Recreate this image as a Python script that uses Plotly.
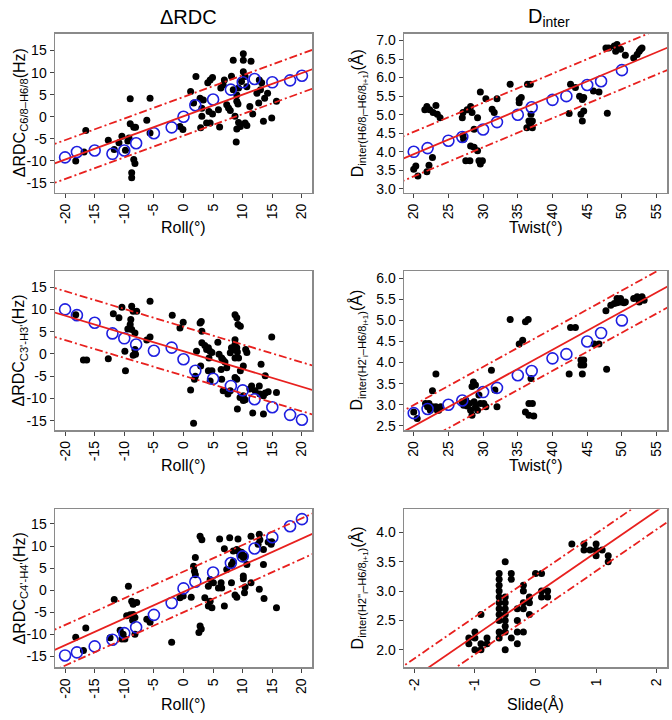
import plotly.graph_objects as go

# ---------------- data ----------------
# Panel 1: dRDC C6/8-H6/8 vs Roll
p1_x = [-16.5, -18.2, -16.8, -12.7, -11.7, -10.9, -10.4, -9.8, -9.4, -9.0, -9.0, -8.75, -8.75, -8.4, -8.2,
        -8.4, -8.1, -9.2, -6.2, -5.65, -5.65, -0.6, -0.1, 1.2, 1.7, 2.1, 2.8, 2.9, 3.1, 3.35, 3.9, 4.3, 4.5,
        4.1, 4.5, 4.9, 4.9, 5.9, 6.1, 6.3, 6.7, 6.9, 7.3, 7.6, 7.9, 8.1, 8.4, 8.7, 9.0, 9.2, 8.9, 9.0, 9.3,
        9.6, 9.0, 9.3, 10.1, 10.1, 10.1, 10.4, 10.7, 10.4, 10.7, 11.4, 11.2, 11.7, 12.4, 12.7, 13.0, 13.2,
        13.5, 13.7, 14.2, 14.9, 15.7, 12.8, 9.8, 8.4, 3.1]
p1_y = [-3.1, -10.05, -8.0, -5.3, -7.4, -5.9, -4.4, -7.6, -5.5, 4.1, -1.6, -12.7, -13.8, -9.7, -10.6,
        -2.4, -2.4, -4.8, -0.8, 4.2, -3.7, -2.2, -2.9, 5.7, 3.1, 9.1, 4.2, -2.5, 0.1, 3.8, -1.4, 1.2, -1.4,
        7.7, 8.3, 8.9, 0.6, 1.6, -2.3, 6.5, 7.2, 8.3, 2.7, 2.0, 1.4, 9.2, 12.8, 0.1, 3.5, 2.9, -5.7, -2.8, -1.3,
        -2.2, 4.95, 6.5, 14.3, 12.8, 10.2, 9.1, 6.8, -1.4, -2.0, 12.6, 2.3, 0.6, 5.3, 3.1, 6.1, 7.7,
        -1.0, 4.2, 5.3, -0.3, 3.5, 8.3, 7.96, 6.1, 1.95]
roll_bins = [-20, -18, -15, -12, -10, -8, -5, -2, 0, 2, 5, 8, 10, 12, 15, 18, 20]
p1_mean = [-9.2, -8.0, -7.65, -8.4, -7.65, -6.0, -3.75, -2.4, 0.0, 2.6, 3.9, 6.15, 7.8, 8.55, 7.8, 8.25, 9.3]
p1_fit = [0.49, 0.1, 4.4]   # slope, intercept, band

# Panel 2: Dinter H6/8 - H6/8 vs Twist
p2_x = [20.3, 20.0, 20.6, 21.9, 22.2, 22.7, 21.9, 21.6, 22.3, 22.8, 23.2, 23.4, 23.8, 27.1, 27.0, 27.7, 28.2,
        28.4, 29.6, 30.4, 32.0, 31.3, 31.6, 27.1, 27.2, 28.7, 29.2, 28.2, 28.7, 29.2, 27.5, 28.1, 29.4, 29.9,
        29.6, 33.9, 35.2, 35.5, 35.2, 36.4, 36.8, 36.9, 36.6, 37.1, 36.8, 36.3, 37.1, 42.6, 43.3, 43.9, 44.3,
        44.5, 42.4, 44.5, 44.1, 44.3, 45.9, 46.7, 47.9, 47.7, 48.1, 48.9, 49.3, 49.6, 49.1, 49.8, 50.5, 51.7,
        52.2, 52.7, 52.9, 52.5]
p2_y = [3.62, 3.53, 3.35, 3.46, 3.64, 3.85, 5.22, 5.13, 5.13, 5.06, 5.25, 5.01, 4.92, 5.06, 4.92, 5.13, 5.22,
        5.06, 5.61, 5.43, 5.43, 5.15, 5.06, 4.43, 4.34, 4.61, 4.92, 4.16, 4.12, 4.03, 3.76, 3.76, 3.76, 3.76,
        3.67, 5.82, 5.41, 5.46, 5.32, 5.82, 5.82, 5.01, 4.83, 4.83, 4.74, 4.65, 4.65, 5.82, 5.73, 5.5, 5.41,
        5.46, 5.03, 5.1, 5.01, 4.83, 5.64, 5.61, 5.04, 6.8, 6.8, 6.85, 6.89, 6.78, 6.71, 6.76, 6.6, 6.53,
        6.62, 6.76, 6.8, 6.71]
twist_bins = [20, 22, 25, 27, 30, 32, 35, 37, 40, 42, 45, 47, 50]
p2_mean = [4.0, 4.1, 4.3, 4.4, 4.6, 4.8, 5.0, 5.2, 5.4, 5.5, 5.8, 5.9, 6.2]
p2_fit = [0.0784, 2.37, 0.6]

# Panel 3: dRDC C3'-H3' vs Roll
p3_x = [-18.2, -16.9, -16.35, -12.7, -11.85, -10.9, -10.4, -9.8, -9.9, -8.75, -8.5, -7.9, -8.9, -9.0, -9.4,
        -8.75, -8.2, -8.2, -8.1, -8.5, -5.65, -6.2, -5.65, -1.9, -0.6, -0.05, 1.2, 1.7, 2.2, 2.0, 1.85, 2.8,
        3.0, 3.1, 3.1, 2.9, 3.6, 3.9, 4.2, 4.5, 4.8, 4.3, 4.2, 4.8, 4.5, 5.8, 6.0, 6.45, 6.7, 7.0, 6.35, 7.3,
        6.45, 7.9, 8.1, 8.4, 9.0, 8.7, 8.7, 9.1, 9.3, 8.7, 8.7, 9.0, 9.2, 9.6, 10.5, 10.7, 8.7, 9.0, 9.6,
        10.1, 6.7, 7.5, 7.9, 9.55, 10.1, 10.1, 10.4, 11.2, 11.5, 12.1, 12.8, 12.9, 13.5, 13.8, 14.3, 13.8,
        13.1, 13.5, 11.7, 9.1, 14.9, 15.7]
p3_y = [8.8, -1.4, -1.4, -1.1, 9.0, 8.1, 10.5, -3.8, 0.6, 10.7, 9.6, 9.6, 7.7, 6.6, 5.6, 5.5, 4.7, 1.0, -0.1,
        -0.3, 11.8, 3.1, 3.8, 8.7, 5.8, 7.1, -8.1, -15.6, 0.6, -5.0, -5.7, 6.96, 7.3, 5.1, 2.5, -2.7, 1.9,
        1.0, 1.4, 0.6, 0.3, -0.9, -3.8, -3.8, -6.1, 2.6, -0.1, -0.9, -1.4, -1.8, -3.5, -3.1, -5.7, 0.26,
        1.4, 1.0, 1.4, 2.1, 3.2, 0.4, -0.9, -0.9, 8.8, 8.1, 6.6, 6.2, 1.0, 0.3, -5.3, -5.7, -3.8, -2.7, -8.3,
        -9.0, -8.3, -9.8, -9.4, -10.5, -10.3, -7.9, -7.2, -8.3, -7.2, -9.0, -9.4, -8.8, -8.5, -4.9, -2.3,
        -13.5, -13.3, -12.4, 3.8, -8.7]
p3_mean = [10.0, 8.7, 7.0, 4.6, 3.5, 2.1, 0.7, 1.4, -1.2, -3.8, -5.6, -7.2, -8.2, -10.2, -12.0, -13.7, -14.8]
p3_fit = [-0.40, 0.6, 5.5]

# Panel 4: Dinter H2'_i - H6/8_i+1 vs Twist
p4_x = [20.0, 20.5, 21.7, 22.2, 22.0, 22.7, 23.2, 23.4, 22.4, 23.2, 22.7, 23.6, 23.9, 27.0, 27.2, 27.5, 27.7,
        28.0, 28.2, 28.4, 28.7, 28.9, 29.2, 28.6, 28.4, 28.9, 29.4, 29.6, 30.1, 30.4, 31.2, 31.7, 32.0, 33.9,
        35.2, 35.7, 36.1, 36.5, 36.9, 36.6, 37.1, 36.1, 36.6, 37.3, 42.6, 43.3, 42.4, 44.1, 44.5, 44.3, 44.1,
        44.5, 44.3, 46.0, 46.7, 47.8, 47.7, 48.4, 48.9, 49.3, 49.8, 49.3, 49.8, 50.3, 50.5, 51.7, 52.2, 52.7,
        52.9, 53.2, 52.5]
p4_y = [2.83, 2.67, 3.03, 3.03, 2.95, 2.95, 2.95, 2.87, 2.87, 3.73, 3.33, 2.87, 2.95, 3.07, 2.99, 3.11, 2.97,
        3.03, 2.87, 2.75, 3.07, 2.95, 2.87, 3.54, 3.43, 3.47, 3.23, 3.03, 3.03, 2.95, 3.82, 3.35, 2.95, 5.02,
        4.44, 4.53, 4.97, 5.02, 3.62, 3.03, 3.03, 2.83, 2.75, 2.73, 4.83, 4.83, 3.73, 4.06, 4.06, 3.96, 3.94,
        3.94, 3.73, 4.44, 4.44, 3.84, 5.23, 5.36, 5.4, 5.42, 5.44, 5.52, 5.52, 5.42, 5.44, 5.52, 5.56, 5.52,
        5.56, 5.48, 5.44]
p4_mean = [2.8, 2.9, 3.0, 3.1, 3.3, 3.4, 3.7, 3.8, 4.1, 4.2, 4.5, 4.7, 5.0]
p4_fit = [0.0906, 0.68, 0.5]

# Panel 5: dRDC C4'-H4' vs Roll
p5_x = [-18.2, -16.9, -16.5, -12.4, -11.7, -10.7, -10.2, -9.9, -10.4, -9.3, -9.6, -9.0, -8.5, -8.2, -8.6,
        -8.75, -8.5, -7.9, -8.2, -6.2, -5.65, -2.0, -0.6, -0.05, 1.3, 1.7, 1.85, 2.0, 2.0, 2.8, 3.1, 2.8, 3.0,
        2.6, 3.6, 4.2, 4.8, 4.5, 4.2, 4.5, 5.05, 5.9, 6.45, 6.35, 6.9, 6.1, 6.9, 7.8, 7.3, 8.1, 8.4, 8.1, 8.7,
        9.0, 9.2, 8.4, 9.0, 9.3, 9.8, 9.55, 10.1, 10.4, 10.1, 10.1, 10.4, 10.3, 10.7, 11.4, 11.4, 12.8, 12.9,
        12.6, 13.5, 12.8, 13.5, 13.6, 14.3, 14.8, 14.9, 15.7]
p5_y = [-10.7, -13.7, -8.6, -10.8, -2.1, -9.1, -10.0, -11.1, -11.1, 0.9, -5.8, -5.6, -5.5, -6.2, -6.8, -2.5,
        -3.2, -2.8, -10.0, -6.6, -7.3, -11.8, -1.7, -1.3, -1.6, 5.4, 4.3, 3.5, 7.4, 12.2, 11.4, -8.1, -8.8,
        -9.6, -1.7, -3.6, -4.0, -2.5, 0.9, 2.4, 1.7, 0.5, 0.5, 1.7, -3.6, 11.6, 9.4, 11.9, 4.7, 5.8, 6.5, 1.7,
        -1.1, -1.6, 11.6, 8.9, 9.2, 8.8, 8.6, 7.9, 7.4, 7.7, 3.2, 2.6, 0.7, -0.6, 5.8, 12.2, 1.7, 12.7, 11.4,
        10.4, 9.2, 0.2, 5.8, -1.9, 10.9, 10.4, 11.0, -4.0]
p5_mean = [-14.8, -14.1, -12.75, -11.25, -9.75, -8.4, -5.6, -2.9, 0.4, 1.9, 4.0, 6.15, 7.65, 9.45, 12.0, 14.5, 16.1]
p5_fit = [0.605, -0.4, 4.6]

# Panel 6: Dinter H2''_i - H6/8_i+1 vs Slide
p6_x = [0.6, 0.8, 0.8, 1.0, 1.0, 1.0, 1.1, 0.9, 1.2, 1.2, -0.5,
        -0.6, -0.6, -0.6, -0.6, -0.6, -0.6, -0.6, -0.6, -0.6, -0.6, -0.6,
        -0.5, -0.5, -0.5, -0.5, -0.5, -0.5, -0.5, -0.5,
        -0.4, -0.4, -0.4, -0.3, -0.3, -0.2, -0.3, -0.3, -0.2, -0.2, -0.2, -0.1, -0.1, -0.1, -0.2,
        0.0, 0.1, 0.1, 0.2, 0.1, 0.2, -0.9, -1.1, -1.0, -1.1, -1.0, -0.9, -0.9, -0.8, -0.8, -1.0]
p6_y = [3.8, 3.8, 3.7, 3.8, 3.7, 3.6, 3.7, 3.7, 3.6, 3.5, 3.5,
        3.3, 3.2, 3.1, 3.0, 2.9, 2.8, 2.7, 2.6, 2.5, 2.3, 2.2,
        2.9, 2.8, 2.7, 2.6, 2.5, 2.4, 2.3, 2.0,
        3.3, 3.2, 2.2, 2.1, 2.3, 2.3, 2.5, 2.7, 2.7, 3.1, 3.0, 2.9, 2.8, 2.6, 2.8,
        3.3, 3.3, 3.0, 3.0, 2.9, 2.9, 2.6, 2.2, 2.3, 2.1, 2.0, 2.0, 2.1, 2.2, 2.1, 2.2]
p6_fit = [0.71, 2.95, 0.32]

# tick labels (R-style hyphen minus)
roll_ticks = [-20, -15, -10, -5, 0, 5, 10, 15, 20]
twist_ticks = [20, 25, 30, 35, 40, 45, 50, 55]
slide_ticks = [-2, -1, 0, 1, 2]
rdc_ticks = [-15, -10, -5, 0, 5, 10, 15]
p2_yticks = [3.0, 3.5, 4.0, 4.5, 5.0, 5.5, 6.0, 6.5, 7.0]
p4_yticks = [2.5, 3.0, 3.5, 4.0, 4.5, 5.0, 5.5, 6.0]
p6_yticks = [2.0, 2.5, 3.0, 3.5, 4.0]

# ---------------- layout parameters ----------------
W, H = 672, 720
col_px = [(55, 312), (404, 667)]
row_px = [(33, 193), (272, 432), (512, 671)]
ytitle_x = [20, 359]
xtitle_y = [228, 468, 708]


def px(v):
    return v / W


def py(v):
    return 1 - v / H


def lab(v, fmt):
    s = format(v, fmt)
    return s.replace("\u2212", "-")


panels = [
    dict(r=0, c=0, x=p1_x, y=p1_y, bx=roll_bins, by=p1_mean, fit=p1_fit,
         xr=[-21.7, 21.7], yr=[-17.2, 18.8], xt=roll_ticks, yt=rdc_ticks, yfmt="d",
         xtitle="Roll(°)", ytitle="ΔRDC<sub>C6/8–H6/8</sub>(Hz)"),
    dict(r=0, c=1, x=p2_x, y=p2_y, bx=twist_bins, by=p2_mean, fit=p2_fit,
         xr=[18.6, 56.5], yr=[2.9, 7.18], xt=twist_ticks, yt=p2_yticks, yfmt=".1f",
         xtitle="Twist(°)", ytitle="D<sub>inter(H6/8<sub>i</sub>–H6/8<sub>i+1</sub>)</sub>(Å)"),
    dict(r=1, c=0, x=p3_x, y=p3_y, bx=roll_bins, by=p3_mean, fit=p3_fit,
         xr=[-21.7, 21.7], yr=[-17.1, 18.6], xt=roll_ticks, yt=rdc_ticks, yfmt="d",
         xtitle="Roll(°)", ytitle="ΔRDC<sub>C3'-H3'</sub>(Hz)"),
    dict(r=1, c=1, x=p4_x, y=p4_y, bx=twist_bins, by=p4_mean, fit=p4_fit,
         xr=[18.6, 56.5], yr=[2.4, 6.17], xt=twist_ticks, yt=p4_yticks, yfmt=".1f",
         xtitle="Twist(°)", ytitle="D<sub>inter(H2'<sub>i</sub>–H6/8<sub>i+1</sub>)</sub>(Å)"),
    dict(r=2, c=0, x=p5_x, y=p5_y, bx=roll_bins, by=p5_mean, fit=p5_fit,
         xr=[-21.7, 21.7], yr=[-17.5, 18.3], xt=roll_ticks, yt=rdc_ticks, yfmt="d",
         xtitle="Roll(°)", ytitle="ΔRDC<sub>C4'-H4'</sub>(Hz)"),
    dict(r=2, c=1, x=p6_x, y=p6_y, bx=None, by=None, fit=p6_fit,
         xr=[-2.17, 2.17], yr=[1.70, 4.39], xt=slide_ticks, yt=p6_yticks, yfmt=".1f",
         xtitle="Slide(Å)", ytitle="D<sub>inter(H2''<sub>i</sub>–H6/8<sub>i+1</sub>)</sub>(Å)"),
]

FONT = "Liberation Sans, Arial, sans-serif"
RED = "#E8201E"
BLUE = "#1F1FE0"
FRAME = "#8A8A8A"
DASH = "8px,3px,2px,3px"

fig = go.Figure()
layout = dict(width=W, height=H, margin=dict(l=0, r=0, t=0, b=0),
              paper_bgcolor="white", plot_bgcolor="white", showlegend=False,
              font=dict(family=FONT, color="black"), hovermode=False)
annotations = []

for i, p in enumerate(panels):
    n = i + 1
    xa = "x" if n == 1 else f"x{n}"
    ya = "y" if n == 1 else f"y{n}"
    x0, x1 = col_px[p["c"]]
    y0, y1 = row_px[p["r"]]
    dom_x = [px(x0), px(x1)]
    dom_y = [py(y1), py(y0)]

    fig.add_trace(go.Scatter(x=p["x"], y=p["y"], mode="markers", xaxis=xa, yaxis=ya,
                             marker=dict(color="black", size=7, line=dict(width=0)), hoverinfo="skip"))
    if p["bx"] is not None:
        fig.add_trace(go.Scatter(x=p["bx"], y=p["by"], mode="markers", xaxis=xa, yaxis=ya,
                                 marker=dict(symbol="circle-open", color=BLUE, size=11,
                                             line=dict(width=1.6, color=BLUE)), hoverinfo="skip"))
    slope, icpt, band = p["fit"]
    lx = [p["xr"][0] - 1, p["xr"][1] + 1]
    for off, dash in [(0, "solid"), (band, DASH), (-band, DASH)]:
        fig.add_trace(go.Scatter(x=lx, y=[slope * v + icpt + off for v in lx], mode="lines",
                                 xaxis=xa, yaxis=ya, line=dict(color=RED, width=1.8, dash=dash),
                                 hoverinfo="skip"))

    axcommon = dict(showgrid=False, zeroline=False, showline=True, mirror=True, linecolor=FRAME,
                    linewidth=1.5, ticks="outside", ticklen=4, tickcolor="#444", tickwidth=1,
                    tickfont=dict(size=14, family=FONT, color="black"))
    layout["xaxis" if n == 1 else f"xaxis{n}"] = dict(
        axcommon, domain=dom_x, range=p["xr"], tickvals=p["xt"],
        ticktext=[lab(v, "d") for v in p["xt"]], tickangle=-90, anchor=ya)
    layout["yaxis" if n == 1 else f"yaxis{n}"] = dict(
        axcommon, domain=dom_y, range=p["yr"], tickvals=p["yt"],
        ticktext=[lab(v, p["yfmt"]) for v in p["yt"]], anchor=xa)

    annotations.append(dict(text=p["xtitle"], x=px((x0 + x1) / 2), y=py(xtitle_y[p["r"]]),
                            xref="paper", yref="paper", showarrow=False, xanchor="center",
                            yanchor="middle", font=dict(size=16, family=FONT)))
    annotations.append(dict(text=p["ytitle"], x=px(ytitle_x[p["c"]]), y=py((y0 + y1) / 2),
                            xref="paper", yref="paper", showarrow=False, xanchor="center",
                            yanchor="middle", textangle=-90, font=dict(size=16, family=FONT)))

annotations += [
    dict(text="ΔRDC", x=px((55 + 312) / 2 + 5), y=py(16), xref="paper", yref="paper",
         showarrow=False, font=dict(size=20, family=FONT), xanchor="center", yanchor="middle"),
    dict(text="D<sub>inter</sub>", x=px((404 + 667) / 2 + 13), y=py(17), xref="paper", yref="paper",
         showarrow=False, font=dict(size=20, family=FONT), xanchor="center", yanchor="middle"),
]
layout["annotations"] = annotations
fig.update_layout(**layout)

# remove the browser's default 8px page margin so the 672x720 figure fills the window
NO_MARGIN_JS = "document.body.style.margin='0';document.documentElement.style.overflow='hidden';"
fig.write_html("out.html", post_script=NO_MARGIN_JS,
               config={"displayModeBar": False, "staticPlot": True})
